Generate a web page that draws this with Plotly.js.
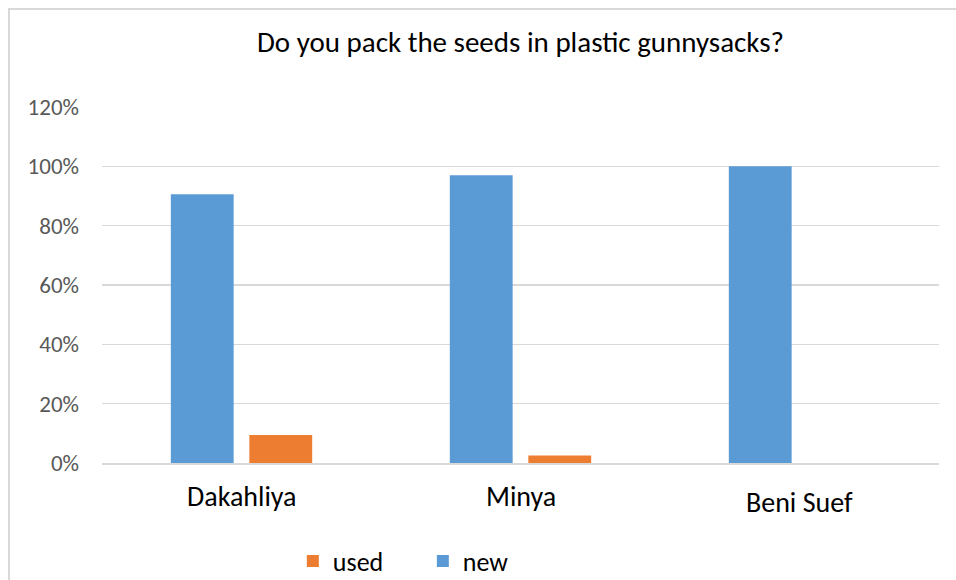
<!DOCTYPE html>
<html>
<head>
<meta charset="utf-8">
<script src="https://cdn.plot.ly/plotly-3.0.1.min.js"></script>
<style>
  html, body { margin: 0; padding: 0; background: #fff; overflow: hidden; }
  #wrap { position: relative; width: 956px; height: 580px; overflow: hidden; }
  #chart { width: 956px; height: 580px; }
  #frame { position: absolute; left: 8px; top: 8px; right: 0; bottom: 0;
           border-left: 2px solid #d9d9d9; border-top: 2px solid #d9d9d9;
           pointer-events: none; }
</style>
</head>
<body>
<div id="wrap">
  <div id="chart"></div>
  <div id="frame"></div>
</div>
<script>
// Governorates surveyed
const categories = ['Dakahliya', 'Minya', 'Beni Suef'];
// Share of farmers packing seeds in new vs. used plastic gunnysacks
const newShare = [0.906, 0.97, 1.0];
const usedShare = [0.094, 0.025, 0.0];
const yTickVals = [0, 0.2, 0.4, 0.6, 0.8, 1.0, 1.2];
const yTickText = ['0%', '20%', '40%', '60%', '80%', '100%', '120%'];

const font = 'Calibri, Carlito, Lato, "Open Sans", sans-serif';

const traces = [
  { type: 'bar', name: 'new', x: categories, y: newShare,
    marker: { color: '#5B9BD5' }, hoverinfo: 'x+y' },
  { type: 'bar', name: 'used', x: categories, y: usedShare,
    marker: { color: '#ED7D31' }, hoverinfo: 'x+y' }
];

// category labels drawn as annotations so each can sit at its own depth
const labelDrop = { 'Beni Suef': -39 };
const annotations = categories.map(c => ({
  x: c, y: 0, xref: 'x', yref: 'y', text: c, showarrow: false,
  yanchor: 'middle', yshift: labelDrop[c] !== undefined ? labelDrop[c] : -33,
  font: { family: font, size: 28, color: '#000' }
}));

const layout = {
  width: 956, height: 580,
  margin: { l: 102, r: 17, t: 107, b: 117 },
  paper_bgcolor: '#fff', plot_bgcolor: '#fff',
  title: { text: 'Do you pack the seeds in plastic gunnysacks?',
           x: 0.5, xref: 'paper', y: 1 - 42 / 580, yref: 'container', yanchor: 'middle',
           font: { family: font, size: 29, color: '#000' } },
  barmode: 'group', bargap: 0.437, bargroupgap: 0.2,
  xaxis: { type: 'category', showticklabels: false, showgrid: false,
           showline: true, linecolor: '#d9d9d9', linewidth: 1.5, ticks: '',
           fixedrange: true },
  yaxis: { range: [0, 1.2], tickvals: yTickVals, ticktext: yTickText,
           showgrid: true, gridcolor: '#d9d9d9', gridwidth: 1.5,
           zeroline: false, showline: false, ticks: '', ticklabelstandoff: 22,
           tickfont: { family: font, size: 23, color: '#595959' },
           automargin: false, fixedrange: true },
  showlegend: true,
  legend: { orientation: 'h', traceorder: 'reversed', x: 0.228, xanchor: 'left',
            y: 1 - 561 / 580, yref: 'container', yanchor: 'middle',
            entrywidth: 85, entrywidthmode: 'pixels',
            font: { family: font, size: 26, color: '#000' } },
  annotations: annotations
};

Plotly.newPlot('chart', traces, layout, { displayModeBar: false, staticPlot: true });
</script>
</body>
</html>
